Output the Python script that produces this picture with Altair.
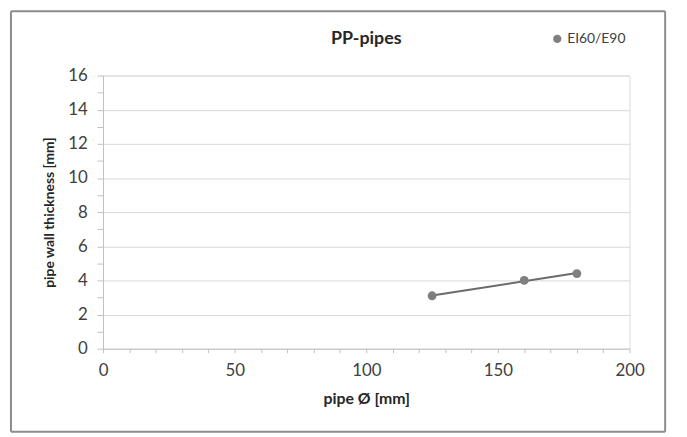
import altair as alt
import pandas as pd

# Data
diameters = [125, 160, 180]
thickness = [3.1, 4.0, 4.4]
series = ["EI60/E90"] * 3

x_ticks = list(range(0, 201, 10))
y_ticks = [i * 0.5 for i in range(0, 33)]

df = pd.DataFrame({"d": diameters, "t": thickness, "s": series})

FONT = "Lato"
TXT = "#404040"
AX = "#bfbfbf"
FRAME = "#8c8c8c"

x_enc = alt.X(
    "d:Q",
    scale=alt.Scale(domain=[0, 200], nice=False, zero=False),
    axis=alt.Axis(
        values=x_ticks,
        format="d",
        labelExpr="datum.value % 50 === 0 ? datum.label : ''",
        labelFlush=False,
        grid=False,
        domainColor=AX,
        tickColor=AX,
        tickSize=4,
        labelFontSize=17,
        labelColor=TXT,
        labelFont=FONT,
        labelPadding=10,
        title="pipe Ø [mm]",
        titleFont=FONT,
        titleFontSize=16,
        titleFontWeight="bold",
        titleColor="#262626",
        titlePadding=12,
    ),
)
y_enc = alt.Y(
    "t:Q",
    scale=alt.Scale(domain=[0, 16], nice=False, zero=True),
    axis=alt.Axis(
        values=y_ticks,
        format="d",
        labelExpr="datum.value % 2 === 0 ? datum.label : ''",
        labelFlush=False,
        gridColor="#d9d9d9",
        gridOpacity={"condition": {"test": "datum.value % 2 === 0 && datum.value > 0", "value": 1}, "value": 0},
        domainColor=AX,
        tickColor=AX,
        tickSize=6,
        labelFontSize=17,
        labelColor=TXT,
        labelFont=FONT,
        labelPadding=10,
        title="pipe wall thickness [mm]",
        titleFont=FONT,
        titleFontSize=14,
        titleFontWeight="bold",
        titleColor="#262626",
        titlePadding=11,
    ),
)

base = alt.Chart(df)

trend = base.transform_regression("d", "t").mark_line(
    color="#6b6b6b", strokeWidth=2
).encode(x=x_enc, y=y_enc)

points = base.mark_circle(size=80, opacity=1).encode(
    x=x_enc,
    y=y_enc,
    color=alt.Color(
        "s:N",
        scale=alt.Scale(range=["#7f7f7f"]),
        legend=alt.Legend(
            title=None,
            orient="none",
            legendX=452,
            legendY=-44,
            symbolType="circle",
            symbolSize=70,
            labelFont=FONT,
            labelFontSize=14,
            labelColor=TXT,
            labelOffset=3,
        ),
    ),
)

one = pd.DataFrame({"a": [0]})
L, R, T, B = -93, 568, -65, 360
edges = [
    alt.Chart(one).mark_rule(color=FRAME, strokeWidth=2).encode(
        x=alt.value(L), x2=alt.value(R), y=alt.value(T)),
    alt.Chart(one).mark_rule(color=FRAME, strokeWidth=2).encode(
        x=alt.value(L), x2=alt.value(R), y=alt.value(B)),
    alt.Chart(one).mark_rule(color=FRAME, strokeWidth=2).encode(
        x=alt.value(L), y=alt.value(T), y2=alt.value(B)),
    alt.Chart(one).mark_rule(color=FRAME, strokeWidth=2).encode(
        x=alt.value(R), y=alt.value(T), y2=alt.value(B)),
]

title = alt.Chart(one).mark_text(
    text="PP-pipes", font=FONT, fontSize=18, fontWeight="bold", color="#262626",
    align="center", baseline="middle"
).encode(x=alt.value(266), y=alt.value(-37))

chart = alt.layer(*edges, title, trend, points).properties(
    width=532,
    height=276,
    autosize=alt.AutoSizeParams(type="none"),
    padding={"left": 96, "top": 66, "right": 50, "bottom": 87},
).configure_view(stroke=None).configure(background="white")

chart.save("out.html", embed_options={"renderer": "svg", "actions": False})
